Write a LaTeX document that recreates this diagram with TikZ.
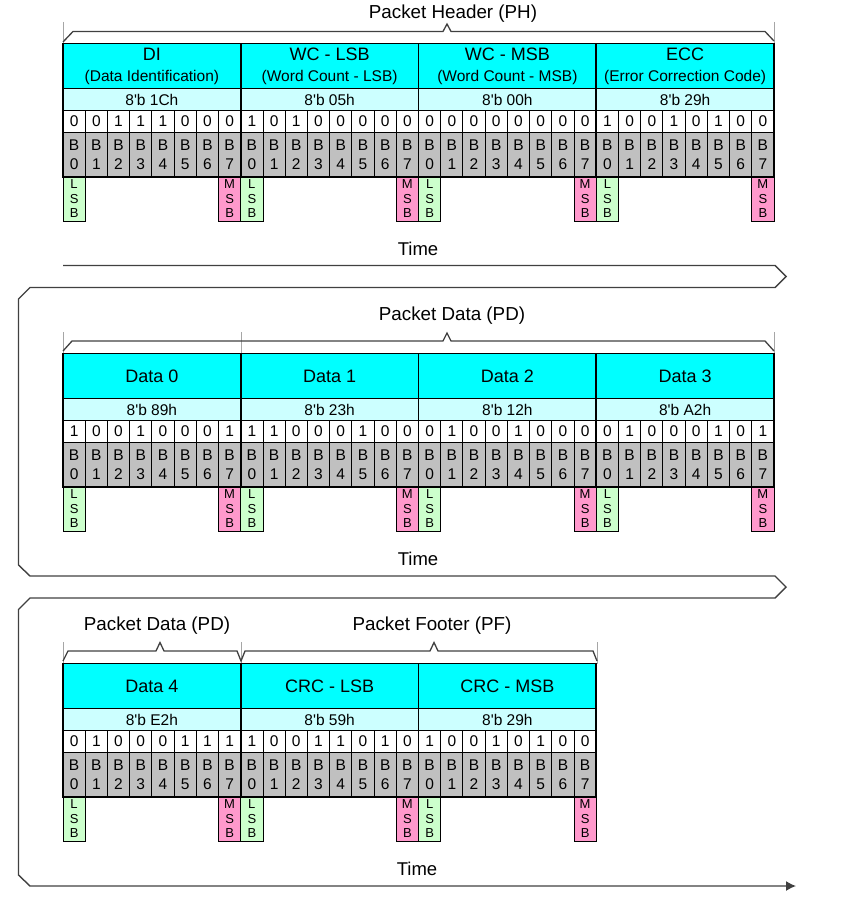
\documentclass[tikz,border=0pt]{standalone}
\usepackage{fontspec}
\setmainfont{Liberation Sans}
\usetikzlibrary{arrows.meta,calc}

\definecolor{hdrcyan}{HTML}{00FFFF}
\definecolor{hexcyan}{HTML}{CCFFFF}
\definecolor{bitgray}{HTML}{C0C0C0}
\definecolor{lsbgreen}{HTML}{CCFFCC}
\definecolor{msbpink}{HTML}{FF99CC}
\definecolor{bandgray}{HTML}{404040}

\newcommand{\bitw}{22.22}
\newcommand{\subfont}{\fontsize{15.5}{17}\selectfont}
\newcommand{\hx}[1]{8{\textquotesingle}b #1}

\tikzset{
  cell/.style={draw=black, line width=0.9pt, inner sep=0pt, outer sep=0pt,
    anchor=north west, align=center},
  hdrbox/.style={cell, fill=hdrcyan, minimum width=177.75pt, minimum height=45pt,
    font=\fontsize{18}{19}\selectfont},
  hexbox/.style={cell, fill=hexcyan, minimum width=177.75pt, minimum height=22pt,
    font=\fontsize{15.5}{17}\selectfont},
  bitbox/.style={cell, fill=white, minimum width=22.22pt, minimum height=22pt,
    font=\fontsize{15.5}{17}\selectfont},
  bnbox/.style={cell, fill=bitgray, minimum width=22.22pt, minimum height=44.5pt,
    font=\fontsize{15.5}{19}\selectfont},
  lsbbox/.style={cell, fill=lsbgreen, minimum width=22.22pt, minimum height=44pt,
    font=\fontsize{13}{14.5}\selectfont},
  msbbox/.style={lsbbox, fill=msbpink},
  byteline/.style={draw=black, line width=1.6pt},
  bracestyle/.style={draw=bandgray, line width=1.3pt},
  extline/.style={draw=gray!70, line width=0.8pt},
  band/.style={draw=bandgray, line width=1.4pt},
  titletext/.style={font=\fontsize{18.8}{22}\selectfont},
  timetext/.style={font=\fontsize{18.5}{22}\selectfont}
}

% one byte: header, hex value, bit values, bit numbers, LSB/MSB marks
\newcommand{\packetbyte}[5]{%
  \node[hdrbox] (#1-hdr) at (#2) {#3};
  \node[hexbox] (#1-hex) at (#1-hdr.south west) {#4};
  \foreach \v [count=\i from 0] in {#5} {
    \node[bitbox] (#1-v\i) at ($(#1-hex.south west)+(\i*\bitw,0)$) {\v};
    \node[bnbox] (#1-b\i) at (#1-v\i.south west) {B\\\i};
  }
  \node[lsbbox] (#1-lsb) at (#1-b0.south west) {L\\S\\B};
  \node[msbbox] (#1-msb) at (#1-b7.south west) {M\\S\\B};
  \draw[byteline] (#1-hdr.north west) rectangle (#1-b7.south east);
}

\begin{document}
\begin{tikzpicture}[x=1pt,y=-1pt]
\useasboundingbox (0,0) rectangle (852,909);
% Packet Header
\node[titletext] (ph-lbl) at (453,14) {Packet Header (PH)};
\draw[extline] (63,22) -- (63,43.5);
\draw[extline] (774,22) -- (774,43.5);
\draw[bracestyle] (63,42) -- (73,31.5) -- (443,31.5) -- (447,24) -- (451,31.5) -- (765,31.5) -- (774,41);
\packetbyte{di}{63,43.5}{DI\\[2pt]\subfont (Data Identification)}{\hx{1Ch}}{0,0,1,1,1,0,0,0}
\packetbyte{wcl}{240.75,43.5}{WC - LSB\\[2pt]\subfont (Word Count - LSB)}{\hx{05h}}{1,0,1,0,0,0,0,0}
\packetbyte{wcm}{418.5,43.5}{WC - MSB\\[2pt]\subfont (Word Count - MSB)}{\hx{00h}}{0,0,0,0,0,0,0,0}
\packetbyte{ecc}{596.25,43.5}{ECC\\[2pt]\subfont (Error Correction Code)}{\hx{29h}}{1,0,0,1,0,1,0,0}
\node[timetext] (time1) at (418,249) {Time};
%
% Packet Data
\node[titletext] (pd-lbl) at (452,316) {Packet Data (PD)};
\draw[extline] (63,332) -- (63,353.5);
\draw[extline] (241,332) -- (241,353.5);
\draw[extline] (774,332) -- (774,353.5);
\draw[bracestyle] (63,351) -- (72,341) -- (443,341) -- (447,333) -- (451,341) -- (765,341) -- (774,351);
\packetbyte{d0}{63,353.5}{Data 0}{\hx{89h}}{1,0,0,1,0,0,0,1}
\packetbyte{d1}{240.75,353.5}{Data 1}{\hx{23h}}{1,1,0,0,0,1,0,0}
\packetbyte{d2}{418.5,353.5}{Data 2}{\hx{12h}}{0,1,0,0,1,0,0,0}
\packetbyte{d3}{596.25,353.5}{Data 3}{\hx{A2h}}{0,1,0,0,0,1,0,1}
\node[timetext] (time2) at (418,559) {Time};
%
% Packet Data + Packet Footer
\node[titletext] (pd2-lbl) at (157,626) {Packet Data (PD)};
\node[titletext] (pf-lbl) at (432,626) {Packet Footer (PF)};
\draw[extline] (63,642) -- (63,663.5);
\draw[extline] (241,642) -- (241,663.5);
\draw[extline] (597,642) -- (597,663.5);
\draw[bracestyle] (63,661) -- (68,651) -- (156,651) -- (160,642.5) -- (164,651) -- (237,651) -- (241,661) -- (245,651) -- (430,651) -- (434,642.5) -- (438,651) -- (593,651) -- (597,661);
\packetbyte{d4}{63,663.5}{Data 4}{\hx{E2h}}{0,1,0,0,0,1,1,1}
\packetbyte{crcl}{240.75,663.5}{CRC - LSB}{\hx{59h}}{1,0,0,1,1,0,1,0}
\packetbyte{crcm}{418.5,663.5}{CRC - MSB}{\hx{29h}}{1,0,0,1,0,1,0,0}
\node[timetext] (time3) at (417,869) {Time};
%
% Time band
\coordinate (t0) at (63,265.5);
\coordinate (t1) at (796,886);
\draw[band, -{Latex[length=10pt,width=10pt]}] (t0) -- (775,265.5) -- (786,276.5) -- (775,287.5) -- (30,287.5) -- (18.5,299)
  -- (18.5,565) -- (30,576) -- (775,576) -- (786,587) -- (775,598) -- (30,598) -- (18.5,609.5)
  -- (18.5,875) -- (30,886) -- (t1);
\end{tikzpicture}
\end{document}
